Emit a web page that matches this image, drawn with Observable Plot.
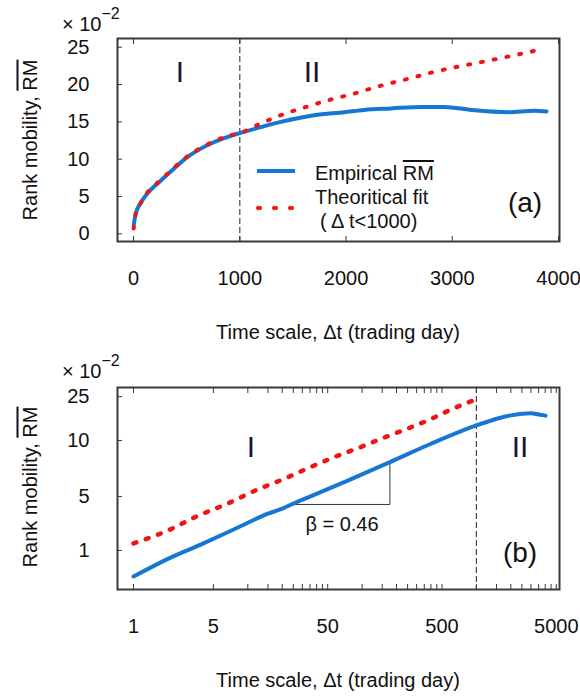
<!DOCTYPE html>
<html><head><meta charset="utf-8">
<script src="https://cdn.jsdelivr.net/npm/d3@7"></script>
<script src="https://cdn.jsdelivr.net/npm/@observablehq/plot@0.6"></script>
<style>
body{margin:0;background:#fff;}
#wrap{position:relative;width:580px;height:696px;}
#wrap svg{display:block;overflow:visible;}
</style></head><body><div id="wrap"></div>
<script>
// ---------- Panel (a): linear axes ----------
const aEmpT = [3, 19, 66, 129, 207, 285, 377, 509, 698, 887, 1000, 1200, 1387, 1700, 1984, 2170, 2425, 2708, 2925, 3179, 3528, 3774, 3887];
const aEmpV = [1.3, 2.6, 4.1, 5.4, 6.5, 7.5, 8.7, 10.3, 11.9, 13.0, 13.5, 14.3, 15.0, 15.9, 16.3, 16.6, 16.8, 17.0, 17.0, 16.6, 16.3, 16.5, 16.4];
const aFitT = [1, 19, 66, 129, 207, 285, 377, 509, 698, 887, 1000, 1200, 1387, 1623, 1858, 2079, 2314, 2566, 2802, 3054, 3305, 3541, 3802];
const aFitV = [0.7, 2.6, 4.1, 5.5, 6.6, 7.6, 8.8, 10.4, 12.0, 13.1, 13.5, 14.8, 15.9, 17.0, 18.0, 18.8, 19.8, 20.7, 21.6, 22.4, 23.1, 23.8, 24.6];
const aTicksX = [0, 1000, 2000, 3000, 4000];
const aTicksY = [0, 5, 10, 15, 20, 25];

// ---------- Panel (b): log-log axes ----------
const bEmpT = [1, 2, 4, 7.5, 15, 20, 24, 38, 74, 175, 400, 1000, 1250, 1600, 2000, 2500, 3000, 3500, 4030];
const bEmpV = [0.58, 0.84, 1.15, 1.55, 2.16, 2.4, 2.62, 3.2, 4.3, 6.35, 9.33, 13.7, 14.8, 16.0, 16.9, 17.5, 17.7, 17.2, 16.8];
const bFitT = [1, 2, 3.6, 6.6, 12, 21, 35, 60, 97, 155, 250, 385, 594, 751, 996];
const bFitV = [1.16, 1.52, 2.05, 2.66, 3.56, 4.5, 5.7, 7.2, 8.7, 10.6, 12.8, 15.4, 19.0, 21.1, 23.6];
const bTickMarksX = [1, 5, 10, 15, 20, 25, 30, 35, 40, 45, 50, 100, 150, 200, 250, 300, 350, 400, 450, 500, 1000, 1500, 2000, 2500, 3000, 3500, 4000, 4500, 5000];
const bTickLabelsX = [1, 5, 50, 500, 5000];
const bTicksY = [1, 3.1, 10, 25];
const bTickTextY = ["1", "5", "10", "25"];
const slopeT = [23.5, 175, 175];
const slopeV = [2.62, 2.62, 6.35];

const boundary = 1000;
const BLUE = "#1677d2", RED = "#f01414", INK = "#3a3a3a", NAVY = "#16163e";
const FONT = "'Liberation Sans', Arial, sans-serif";

const pts = (T, V) => T.map((t, i) => ({t, v: V[i]}));
const blank = () => "";

function txt(svg, x, y, parts, attrs = {}) {
  const t = d3.select(svg).append("text").attr("x", x).attr("y", y)
    .attr("font-family", FONT).attr("fill", "#111").attr("text-anchor", "start");
  for (const [k, v] of Object.entries(attrs)) t.attr(k, v);
  for (const p of parts) {
    if (typeof p === "string") t.append("tspan").text(p);
    else { const s = t.append("tspan").text(p.text); for (const [k, v] of Object.entries(p.attrs || {})) s.attr(k, v); if (p.style) s.attr("style", p.style); }
  }
  return t;
}
function yLabel(svg, cy) {
  txt(svg, 36.5, cy, ["Rank mobility, ", {text: "RM", style: "text-decoration: overline"}],
    {"font-size": 20, "text-anchor": "middle", transform: `rotate(-90,36.5,${cy})`});
}
function xLabel(svg) {
  txt(svg, 338, 339, ["Time scale, Δt (trading day)"], {"font-size": 20, "text-anchor": "middle"});
}
function times(svg, y) {
  txt(svg, 62, y, ["× 10", {text: "−2", attrs: {dy: -12, "font-size": 16}}], {"font-size": 20});
}
function region(svg, x, y, s) {
  txt(svg, x, y, [s], {"font-size": 30, "text-anchor": "middle", fill: NAVY});
}

const common = {
  width: 580, height: 348,
  marginTop: 38, marginBottom: 107, marginLeft: 117, marginRight: 21,
  style: {fontFamily: FONT, fontSize: "20px", color: "#111", background: "white", overflow: "visible"}
};

// ---------- Plot A ----------
const plotA = Plot.plot({
  ...common,
  x: {domain: [-151, 4009]},
  y: {domain: [-1.03, 26.17]},
  marks: [
    Plot.ruleX([boundary], {stroke: "#444", strokeWidth: 1.2, strokeDasharray: "6,3"}),
    Plot.line(pts(aEmpT, aEmpV), {x: "t", y: "v", stroke: BLUE, strokeWidth: 4, curve: "monotone-x"}),
    Plot.line(pts(aFitT, aFitV), {x: "t", y: "v", stroke: RED, strokeWidth: 4, strokeLinecap: "round", strokeDasharray: "2,11", curve: "monotone-x"}),
    Plot.axisX(aTicksX, {anchor: "bottom", tickSize: -5, tickFormat: blank, label: null, stroke: INK}),
    Plot.axisX(aTicksX, {anchor: "top", tickSize: -5, tickFormat: blank, label: null, stroke: INK}),
    Plot.text(aTicksX, {x: d => d, frameAnchor: "bottom", dy: 43, text: d => String(d), fill: "#111"}),
    Plot.axisY(aTicksY, {anchor: "left", tickSize: -5, tickFormat: blank, label: null, stroke: INK}),
    Plot.text(aTicksY, {y: d => d, frameAnchor: "left", dx: -28, textAnchor: "end", text: d => String(d), fill: "#111"}),
    Plot.frame({stroke: INK, strokeWidth: 2})
  ]
});
plotA.style.position = "absolute"; plotA.style.left = "0px"; plotA.style.top = "0px";
document.getElementById("wrap").appendChild(plotA);

yLabel(plotA, 140);
xLabel(plotA);
times(plotA, 31);
region(plotA, 180, 82, "I");
region(plotA, 312, 82, "II");
txt(plotA, 525, 212, ["(a)"], {"font-size": 28, "text-anchor": "middle"});
// legend
const lg = d3.select(plotA);
lg.append("line").attr("x1", 257).attr("x2", 295).attr("y1", 171).attr("y2", 171).attr("stroke", BLUE).attr("stroke-width", 4);
lg.append("line").attr("x1", 258).attr("x2", 293).attr("y1", 208).attr("y2", 208).attr("stroke", RED).attr("stroke-width", 4)
  .attr("stroke-linecap", "round").attr("stroke-dasharray", "2,14");
txt(plotA, 315, 180, ["Empirical ", {text: "RM", style: "text-decoration: overline"}], {"font-size": 20});
txt(plotA, 315, 204, ["Theoritical fit"], {"font-size": 20});
txt(plotA, 320, 228, ["( Δ t<1000)"], {"font-size": 20});

// ---------- Plot B ----------
const plotB = Plot.plot({
  ...common,
  marginTop: 39,
  x: {type: "log", domain: [0.7245, 5333]},
  y: {type: "log", domain: [0.442, 30.3]},
  marks: [
    Plot.ruleX([boundary], {stroke: "#444", strokeWidth: 1.2, strokeDasharray: "6,3"}),
    Plot.line(pts(slopeT, slopeV), {x: "t", y: "v", stroke: "#333", strokeWidth: 1}),
    Plot.line(pts(bEmpT, bEmpV), {x: "t", y: "v", stroke: BLUE, strokeWidth: 4, curve: "monotone-x"}),
    Plot.line(pts(bFitT, bFitV), {x: "t", y: "v", stroke: RED, strokeWidth: 4.5, strokeLinecap: "round", strokeDasharray: "3,10", curve: "monotone-x"}),
    Plot.axisX(bTickMarksX, {anchor: "bottom", tickSize: -5, tickFormat: blank, label: null, stroke: INK}),
    Plot.axisX(bTickMarksX, {anchor: "top", tickSize: -5, tickFormat: blank, label: null, stroke: INK}),
    Plot.text(bTickLabelsX, {x: d => d, frameAnchor: "bottom", dy: 43, text: d => String(d), fill: "#111"}),
    Plot.axisY(bTicksY, {anchor: "left", tickSize: -5, tickFormat: blank, label: null, stroke: INK}),
    Plot.text(bTicksY, {y: d => d, frameAnchor: "left", dx: -28, textAnchor: "end", text: (d, i) => bTickTextY[i], fill: "#111"}),
    Plot.frame({stroke: INK, strokeWidth: 2})
  ]
});
plotB.style.position = "absolute"; plotB.style.left = "0px"; plotB.style.top = "348px";
document.getElementById("wrap").appendChild(plotB);

yLabel(plotB, 139);
xLabel(plotB);
times(plotB, 30);
region(plotB, 251, 109, "I");
region(plotB, 520, 109, "II");
txt(plotB, 520, 214, ["(b)"], {"font-size": 28, "text-anchor": "middle"});
txt(plotB, 342, 183, ["β = 0.46"], {"font-size": 20, "text-anchor": "middle"});
</script></body></html>
